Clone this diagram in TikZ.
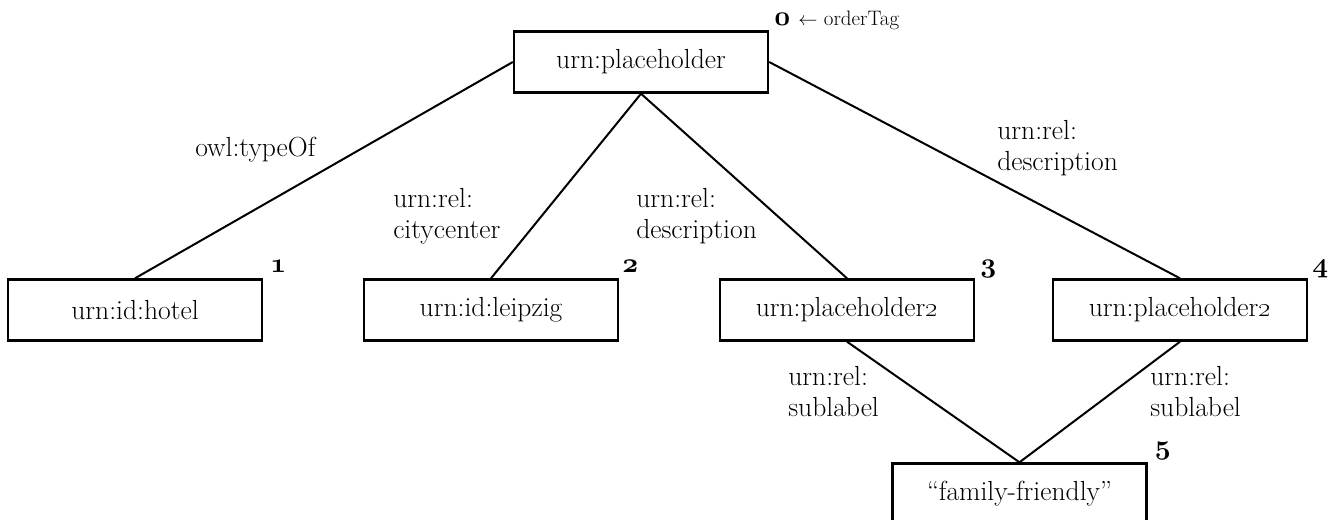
\documentclass[tikz,border=0pt]{standalone}
\begin{document}
\begin{tikzpicture}[x=0.75pt,y=-0.75pt,
		box/.style={draw,line width=1.8pt,minimum width=190.5pt,minimum height=45.75pt,inner sep=0,font=\fontsize{20.7}{23.3}\selectfont},
		rel/.style={align=left,inner sep=0,font=\fontsize{20.7}{23.3}\selectfont},
		num/.style={inner sep=0,anchor=base west,font=\fontsize{20}{23}\selectfont\boldmath},
		edge/.style={line width=1.5pt}]
	\useasboundingbox (0,0) rectangle (1342,520);
	\node [box] at (641,62) (root) {urn:placeholder};
	\node [box] at (135,310) (hotel) {urn:id:hotel};
	\node [box] at (491,310) (leipzig) {urn:id:leipzig};
	\node [box] at (847,310) (descA) {urn:placeholder\oldstylenums{2}};
	\node [box] at (1180,310) (descB) {urn:placeholder\oldstylenums{2}};
	\node [box] at (1019.5,494) (family) {“family-friendly”};
	\draw [edge] (root.west) -- (hotel.north);
	\draw [edge] (root.south) -- (leipzig.north);
	\draw [edge] (root.south) -- (descA.north);
	\draw [edge] (root.east) -- (descB.north);
	\draw [edge] (descA.south) -- (family.north);
	\draw [edge] (descB.south) -- (family.north);
	\node [rel,anchor=base west] at (195,157) (typeof) {owl:typeOf};
	\node [rel,anchor=north west] at (393,188) (city) {urn:rel:\\citycenter};
	\node [rel,anchor=north west] at (636,188) (descr1) {urn:rel:\\description};
	\node [rel,anchor=north west] at (997,120) (descr2) {urn:rel:\\description};
	\node [rel,anchor=north west] at (788,366) (sub1) {urn:rel:\\sublabel};
	\node [rel,anchor=north west] at (1150,366) (sub2) {urn:rel:\\sublabel};
	\node [num] at ([shift={(5,-5)}]root.north east) (n0) {$\oldstylenums{0}$ {\unboldmath\fontsize{15.7}{18}\selectfont$\leftarrow$ orderTag}};
	\node [num] at ([shift={(7,-6)}]hotel.north east) (n1) {$\oldstylenums{1}$};
	\node [num] at ([shift={(3,-6)}]leipzig.north east) (n2) {$\oldstylenums{2}$};
	\node [num] at ([shift={(5,-6)}]descA.north east) (n3) {$\oldstylenums{3}$};
	\node [num] at ([shift={(4,-6)}]descB.north east) (n4) {$\oldstylenums{4}$};
	\node [num] at ([shift={(7,-8)}]family.north east) (n5) {$\oldstylenums{5}$};
\end{tikzpicture}
\end{document}
